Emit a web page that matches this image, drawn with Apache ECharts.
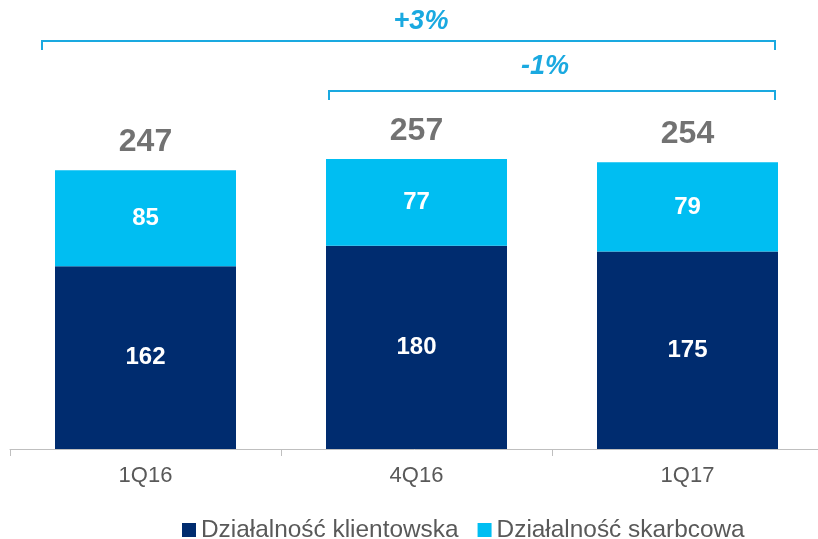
<!DOCTYPE html>
<html>
<head>
<meta charset="utf-8">
<script src="https://cdn.jsdelivr.net/npm/echarts@6/dist/echarts.min.js"></script>
<style>
  html, body { margin: 0; padding: 0; background: #fff; }
  #chart { width: 818px; height: 539px; }
</style>
</head>
<body>
<div id="chart"></div>
<script>
// dane z wykresu
var quarters = ['1Q16', '4Q16', '1Q17'];
var klientowska = [162, 180, 175];
var skarbcowa = [85, 77, 79];
var seriesNames = ['Działalność klientowska', 'Działalność skarbcowa'];
var changes = ['+3%', '-1%'];

var totals = klientowska.map(function (v, i) { return v + skarbcowa[i]; });

var navy = '#002c6f';
var cyan = '#00bef2';
var grey = '#595959';
var bracket = '#1aa9e0';

var myChart = echarts.init(document.getElementById('chart'));

var option = {
    animation: false,
    textStyle: { fontFamily: 'Liberation Sans, Arial, sans-serif' },
    grid: { left: 10, right: -5, top: 54, bottom: 90, outerBoundsMode: 'none' },
    legend: {
        data: seriesNames,
        left: 177,
        bottom: -8,
        icon: 'rect',
        itemWidth: 14,
        itemHeight: 14,
        itemGap: 19,
        textStyle: { fontSize: 24.4, color: grey }
    },
    xAxis: {
        type: 'category',
        data: quarters,
        axisLine: { lineStyle: { color: '#bfbfbf', width: 1 } },
        axisTick: { show: true, length: 7, lineStyle: { color: '#bfbfbf' } },
        axisLabel: { fontSize: 22, color: grey, margin: 16 }
    },
    yAxis: {
        type: 'value',
        min: 0,
        max: 350,
        show: false,
        splitLine: { show: false }
    },
    series: [
        {
            name: seriesNames[0],
            type: 'bar',
            stack: 'a',
            barWidth: 181,
            data: klientowska,
            itemStyle: { color: navy },
            label: { show: true, position: 'inside', color: '#fff', fontWeight: 'bold', fontSize: 24 }
        },
        {
            name: seriesNames[1],
            type: 'bar',
            stack: 'a',
            barWidth: 181,
            data: skarbcowa,
            itemStyle: { color: cyan },
            label: { show: true, position: 'inside', color: '#fff', fontWeight: 'bold', fontSize: 24 }
        },
        {
            // sumy nad słupkami
            name: 'suma',
            type: 'scatter',
            data: totals,
            symbolSize: 0,
            itemStyle: { color: 'transparent' },
            label: { show: true, position: 'top', distance: 12, color: '#4f4f4f', fontWeight: 'bold', fontSize: 32 },
            silent: true
        }
    ]
};
myChart.setOption(option);

// klamry ze zmianą procentową
function brace(x1, x2, y, drop) {
    return {
        type: 'polyline',
        shape: { points: [[x1, y + drop], [x1, y], [x2, y], [x2, y + drop]] },
        style: { stroke: bracket, lineWidth: 2, fill: null }
    };
}
function pct(txt, x, y) {
    return {
        type: 'text',
        x: x, y: y,
        style: {
            text: txt, fill: bracket, fontSize: 27, fontWeight: 'bold', fontStyle: 'italic',
            fontFamily: 'Liberation Sans, Arial, sans-serif',
            align: 'center', verticalAlign: 'middle'
        }
    };
}
myChart.setOption({
    graphic: [
        brace(42, 775, 41, 9),
        pct(changes[0], 421, 22),
        brace(329, 775, 91, 9),
        pct(changes[1], 545, 67)
    ]
});
</script>
</body>
</html>
